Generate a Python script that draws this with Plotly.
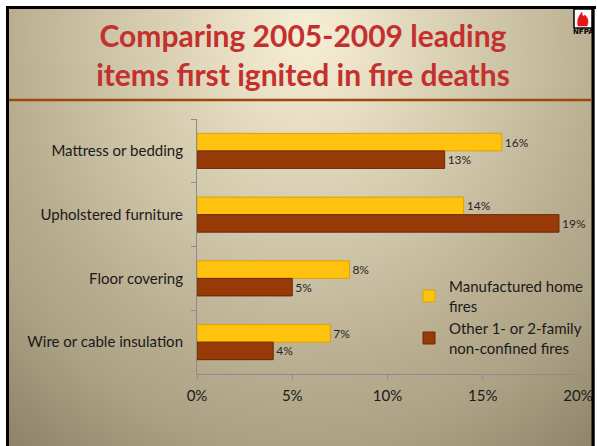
import base64, struct, zlib
import numpy as np
import plotly.graph_objects as go

categories = ["Mattress or bedding", "Upholstered furniture", "Floor covering", "Wire or cable insulation"]
manufactured = [16, 14, 8, 7]
other_family = [13, 19, 5, 4]
series_names = ["Manufactured home<br>fires", "Other 1- or 2-family<br>non-confined fires"]
x_ticks = [0, 5, 10, 15, 20]
x_tick_labels = ["0%", "5%", "10%", "15%", "20%"]

W, H = 597, 446
L, R, T, B = 197, 578, 119, 374
PW, PH = R - L, B - T


def X(px):
    return (px - L) / PW


def Y(py):
    return (B - py) / PH


# ---- background gradient image (pure python PNG) ----
yy, xx = np.mgrid[0:H, 0:W].astype(float)
d = np.sqrt(((xx - 305) / 420.0) ** 2 + ((yy - 35) / 470.0) ** 2)
stops_d = [0.0, 0.72, 0.87, 1.15]
stops_c = [(248, 240, 214), (184, 173, 143), (172, 162, 133), (138, 128, 102)]
img = np.zeros((H, W, 3))
for ch in range(3):
    img[..., ch] = np.interp(d, stops_d, [c[ch] for c in stops_c])
img[(xx < 6) | (yy < 6) | (xx > 594)] = 255
img = img.astype(np.uint8)
raw = b"".join(b"\x00" + img[r].tobytes() for r in range(H))


def chunk(tag, data):
    c = struct.pack(">I", len(data)) + tag + data
    return c + struct.pack(">I", zlib.crc32(tag + data) & 0xFFFFFFFF)


png = b"\x89PNG\r\n\x1a\n" + chunk(b"IHDR", struct.pack(">IIBBBBB", W, H, 8, 2, 0, 0, 0)) \
    + chunk(b"IDAT", zlib.compress(raw, 9)) + chunk(b"IEND", b"")
bg_uri = "data:image/png;base64," + base64.b64encode(png).decode()

fig = go.Figure()
fig.add_trace(go.Bar(
    y=categories, x=manufactured, orientation="h", name=series_names[0],
    marker=dict(color="#FFC20E", line=dict(color="#D9A300", width=1)),
    text=[f"{v}%" for v in manufactured], textposition="outside",
    textfont=dict(size=12, color="#262626"), cliponaxis=False,
))
fig.add_trace(go.Bar(
    y=categories, x=other_family, orientation="h", name=series_names[1],
    marker=dict(color="#983A08", line=dict(color="#6B2804", width=1)),
    text=[f"{v}%" for v in other_family], textposition="outside",
    textfont=dict(size=12, color="#262626"), cliponaxis=False,
))

shapes = [
    dict(type="line", xref="paper", yref="paper", x0=X(9), x1=X(591), y0=Y(100), y1=Y(100),
         line=dict(color="#A0460F", width=2.5)),
    dict(type="line", xref="paper", yref="paper", x0=X(7.5), x1=X(7.5), y0=Y(6), y1=Y(446),
         line=dict(color="black", width=3)),
    dict(type="line", xref="paper", yref="paper", x0=X(6), x1=X(596), y0=Y(7.5), y1=Y(7.5),
         line=dict(color="black", width=3)),
    dict(type="line", xref="paper", yref="paper", x0=X(593), x1=X(593), y0=Y(6), y1=Y(446),
         line=dict(color="black", width=3)),
    # NFPA logo
    dict(type="rect", xref="paper", yref="paper", x0=X(574), x1=X(592), y0=Y(9), y1=Y(28),
         fillcolor="white", line=dict(color="black", width=1.5)),
    dict(type="path", xref="paper", yref="paper",
         path=f"M {X(578)} {Y(26)} Q {X(576)} {Y(19)} {X(582)} {Y(12)} Q {X(582)} {Y(18)} {X(585)} {Y(15)} "
              f"Q {X(590)} {Y(20)} {X(587)} {Y(26)} Z",
         fillcolor="#E8141C", line=dict(color="#E8141C", width=0.5)),
]

fig.update_layout(
    width=W, height=H,
    margin=dict(l=L, r=W - R, t=T, b=H - B, autoexpand=False),
    paper_bgcolor="white", plot_bgcolor="rgba(0,0,0,0)",
    font=dict(family="Lato, 'Open Sans', sans-serif", color="#1a1a1a"),
    title=dict(text="Comparing 2005-2009 leading<br>items first ignited in fire deaths",
               x=303 / W, xanchor="center", y=1 - 47 / H, yanchor="middle",
               font=dict(size=30, color="#C3302E", family="Lato, sans-serif", weight="bold")),
    barmode="group", bargap=0.45, bargroupgap=0,
    showlegend=True,
    legend=dict(x=X(409), y=Y(270), xanchor="left", yanchor="top",
                font=dict(size=15, color="#1a1a1a"), bgcolor="rgba(0,0,0,0)",
                traceorder="normal", tracegroupgap=7, itemwidth=30),
    xaxis=dict(range=[0, 20], tickvals=x_ticks, ticktext=x_tick_labels,
               showgrid=False, zeroline=False, showline=True, linecolor="#8C8C8C", linewidth=1,
               ticks="outside", ticklen=4, tickcolor="#8C8C8C", automargin=False,
               tickfont=dict(size=15, color="#1a1a1a"), ticklabelstandoff=4),
    yaxis=dict(autorange="reversed", showgrid=False, showline=True, linecolor="#8C8C8C", linewidth=1,
               ticks="outside", ticklen=5, tickcolor="#8C8C8C", tickson="boundaries", automargin=False,
               tickfont=dict(size=15, color="#1a1a1a"), ticklabelstandoff=10),
    images=[dict(source=bg_uri, xref="paper", yref="paper", x=X(0), y=Y(0),
                 sizex=W / PW, sizey=H / PH, xanchor="left", yanchor="top",
                 sizing="stretch", layer="below")],
    shapes=shapes,
    annotations=[dict(text="<b>NFPA</b>", xref="paper", yref="paper", x=X(583), y=Y(32),
                      showarrow=False, font=dict(size=7, color="black", family="DejaVu Sans"),
                      xanchor="center", yanchor="middle")],
)

fig.write_html("out.html", config={"displayModeBar": False},
               post_script="document.body.style.margin='0';document.body.style.overflow='hidden';")
